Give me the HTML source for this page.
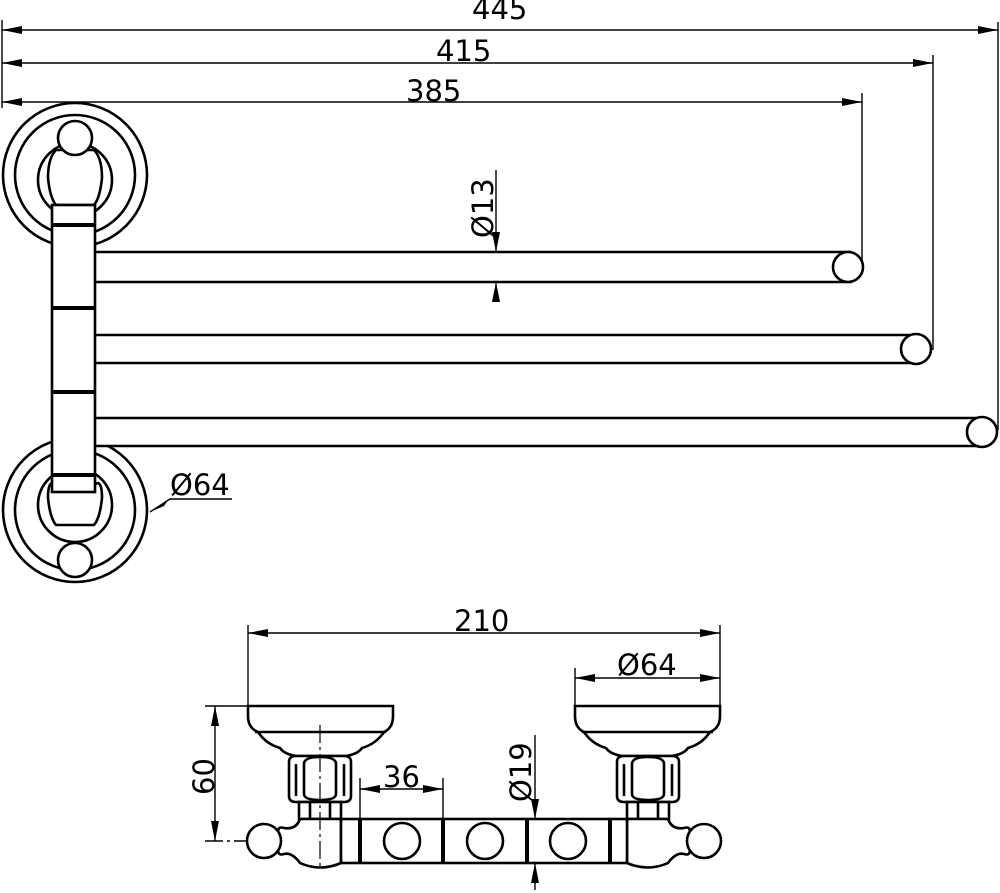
<!DOCTYPE html>
<html><head><style>
html,body{margin:0;padding:0;background:#fff;}
svg{display:block;}
text{font-family:"DejaVu Sans","Liberation Sans",sans-serif;font-size:29px;fill:#000;}
</style></head><body>
<svg width="1000" height="893" viewBox="0 0 1000 893" xmlns="http://www.w3.org/2000/svg">
<defs>
<marker id="a" viewBox="0 0 20 8" refX="20" refY="4" markerWidth="20" markerHeight="8" markerUnits="userSpaceOnUse" orient="auto-start-reverse"><path d="M0,0 L20,4 L0,8 z" fill="#000"/></marker>
<g id="fit" fill="#fff" stroke="#000" stroke-width="2.6">
  <path d="M575,706 H720 V716 Q720,728 710,732 Q702,744 688,748 Q684,754 672,756 H622 Q610,754 606,748 Q592,744 584,732 Q575,728 575,716 Z"/>
  <line x1="582" y1="732" x2="713" y2="732"/>
  <path d="M617,762 Q617,756 624,756 H672 Q679,756 679,762 V796 Q679,802 672,802 H624 Q617,802 617,796 Z"/>
  <path d="M632,764 Q632,757 648,757 Q664,757 664,764 V794 Q664,800 648,800 Q632,800 632,794 Z"/>
  <line x1="624" y1="764" x2="624" y2="796"/><line x1="672" y1="764" x2="672" y2="796"/>
  <rect x="627" y="802" width="42" height="17"/>
  <line x1="638" y1="802" x2="638" y2="819"/><line x1="658" y1="802" x2="658" y2="819"/>
  <path d="M627,819 H668 Q672,830 684,828 Q690,826 690,832 Q686,841 690,850 Q690,856 684,854 Q676,852 668,863 Q648,872 627,863 Z"/>
  <circle cx="704" cy="841" r="17"/>
</g>
</defs>
<g fill="none" stroke="#000" stroke-width="1.4">
  <line x1="2" y1="20" x2="2" y2="108"/>
  <line x1="2" y1="30" x2="998" y2="30" marker-start="url(#a)" marker-end="url(#a)"/>
  <line x1="2" y1="63" x2="933" y2="63" marker-start="url(#a)" marker-end="url(#a)"/>
  <line x1="2" y1="102" x2="862" y2="102" marker-start="url(#a)" marker-end="url(#a)"/>
  <line x1="998" y1="22" x2="998" y2="430"/>
  <line x1="933" y1="55" x2="933" y2="350"/>
  <line x1="862" y1="93" x2="862" y2="268"/>
  <line x1="496" y1="170" x2="496" y2="252" marker-end="url(#a)"/>
  <line x1="496" y1="302" x2="496" y2="282" marker-end="url(#a)"/>
  <polyline points="150,512 170,499 232,499" />
</g>
<path d="M150,512 L168,500 L164,506 z" fill="#000"/>
<g fill="#fff" stroke="#000" stroke-width="2.6">
  <circle cx="75" cy="175" r="72"/><circle cx="75" cy="175" r="60"/>
  <circle cx="75" cy="510" r="72"/><circle cx="75" cy="510" r="60"/>
  <circle cx="75" cy="180" r="37"/><circle cx="75" cy="505" r="37"/>
  <path d="M56,150 Q48,158 48,178 Q50,198 56,205 H94 Q100,198 102,178 Q102,158 94,150 Z"/>
  <circle cx="75" cy="138" r="17"/>
  <path d="M56,495 Q48,488 48,508 Q50,528 56,535 H94 Q100,528 102,508 Q102,488 94,495 Z" transform="translate(0,-10)"/>
  <circle cx="75" cy="560" r="17"/>
  <path d="M95,252 H850 V282 H95 Q88,267 95,252 Z"/><circle cx="848" cy="267" r="15"/>
  <path d="M95,335 H918 V363 H95 Q88,349 95,335 Z"/><circle cx="916" cy="349" r="15"/>
  <path d="M95,418 H983 V446 H95 Q88,432 95,418 Z"/><circle cx="982" cy="432" r="15"/>
  <rect x="52" y="205" width="43" height="287"/>
</g>
<g stroke="#000" stroke-width="4">
  <line x1="52" y1="225" x2="95" y2="225"/><line x1="52" y1="308" x2="95" y2="308"/>
  <line x1="52" y1="392" x2="95" y2="392"/><line x1="52" y1="475" x2="95" y2="475"/>
</g>
<text x="406" y="101">385</text>
<text x="436" y="61">415</text>
<text x="472" y="19">445</text>
<text transform="translate(493,238) rotate(-90)">Ø13</text>
<text x="170" y="495">Ø64</text>

<g fill="none" stroke="#000" stroke-width="1.4">
  <line x1="248" y1="625" x2="248" y2="706"/><line x1="720" y1="625" x2="720" y2="706"/>
  <line x1="248" y1="633" x2="720" y2="633" marker-start="url(#a)" marker-end="url(#a)"/>
  <line x1="575" y1="668" x2="575" y2="706"/>
  <line x1="575" y1="678" x2="720" y2="678" marker-start="url(#a)" marker-end="url(#a)"/>
  <line x1="205" y1="706" x2="248" y2="706"/><line x1="205" y1="841" x2="355" y2="841" stroke-dasharray="18,4,3,4"/>
  <line x1="215" y1="706" x2="215" y2="841" marker-start="url(#a)" marker-end="url(#a)"/>
  <line x1="360" y1="778" x2="360" y2="819"/><line x1="443" y1="778" x2="443" y2="819"/>
  <line x1="360" y1="789" x2="443" y2="789" marker-start="url(#a)" marker-end="url(#a)"/>
  <line x1="535" y1="735" x2="535" y2="819" marker-end="url(#a)"/>
  <line x1="535" y1="890" x2="535" y2="863" marker-end="url(#a)"/>
</g>
<use href="#fit"/>
<use href="#fit" transform="translate(968,0) scale(-1,1)"/>
<g fill="#fff" stroke="#000" stroke-width="2.6">
  <rect x="341" y="819" width="286" height="44"/>
  <circle cx="402" cy="841" r="18"/><circle cx="485" cy="841" r="18"/><circle cx="568" cy="841" r="18"/>
</g>
<g stroke="#000" stroke-width="4">
  <line x1="360" y1="819" x2="360" y2="863"/><line x1="443" y1="819" x2="443" y2="863"/>
  <line x1="527" y1="819" x2="527" y2="863"/><line x1="610" y1="819" x2="610" y2="863"/>
</g>
<line x1="320" y1="725" x2="320" y2="870" stroke="#000" stroke-width="1.2" stroke-dasharray="18,4,3,4"/>
<text x="454" y="631">210</text>
<text x="617" y="675">Ø64</text>
<text x="383" y="787">36</text>
<text transform="translate(214,795) rotate(-90)">60</text>
<text transform="translate(531,802) rotate(-90)">Ø19</text>
</svg>
</body></html>
